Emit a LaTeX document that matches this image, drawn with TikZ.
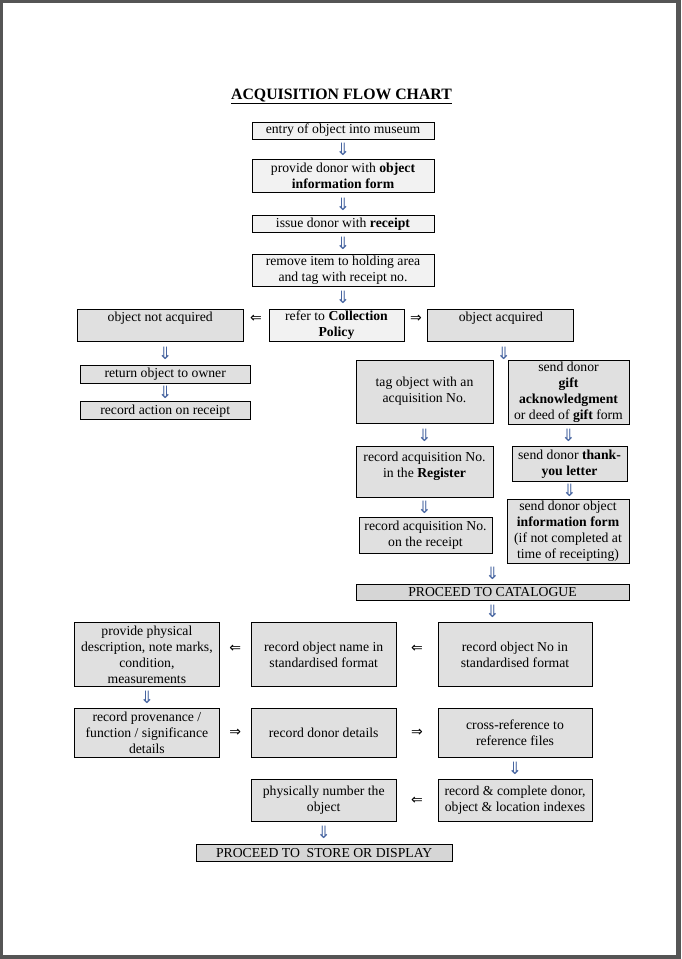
\documentclass[tikz,border=0pt]{standalone}
\usepackage{fontspec}
\setmainfont{Liberation Serif}
\newfontfamily\arrowfont{DejaVu Sans}
\usetikzlibrary{positioning,arrows.meta,calc}
\definecolor{framegray}{RGB}{85,85,85}
\definecolor{boxgray}{RGB}{224,224,224}
\definecolor{lightbox}{RGB}{242,242,242}
\definecolor{proceedgray}{RGB}{214,214,214}
\definecolor{arrowblue}{RGB}{70,100,160}
\tikzset{
  box/.style={draw, line width=.8pt, fill=boxgray, align=center, inner sep=1pt,
    font=\fontsize{13.7}{16}\selectfont},
  firstbox/.style={box, fill=lightbox},
  proceed/.style={box, fill=proceedgray},
  boxsize/.style 2 args={minimum width=#1, minimum height=#2},
  dnarrow/.style={text=arrowblue, inner sep=0pt, font=\arrowfont\fontsize{17}{17}\selectfont},
  sidearrow/.style={text=black, inner sep=0pt, font=\arrowfont\fontsize{14}{14}\selectfont},
}

\begin{document}
\begin{tikzpicture}[x=1pt,y=1pt]

% page frame
\fill[framegray] (0,0) rectangle (681,-959);
\fill[white] (3,-3) rectangle (676,-955);
\useasboundingbox (0,0) rectangle (681,-959);

\node[anchor=base,font=\fontsize{15.8}{18}\selectfont\bfseries] (title) at (341.5,-99)
  {\underline{ACQUISITION FLOW CHART}};

% intake
\node[firstbox,boxsize={182pt}{17pt}] (entry) at (343,-130.5) {entry of object into museum};
\node[firstbox,boxsize={182pt}{33pt},below=20pt of entry] (donorform)
  {provide donor with \textbf{object}\\\textbf{information form}};
\node[firstbox,boxsize={182pt}{17pt},below=22pt of donorform] (receipt)
  {issue donor with \textbf{receipt}};
\node[firstbox,boxsize={182pt}{32pt},below=21pt of receipt] (holding)
  {remove item to holding area\\and tag with receipt no.};
\node[firstbox,boxsize={135pt}{32pt},below=22pt of holding,xshift=-6.5pt] (policy)
  {refer to \textbf{Collection}\\\textbf{Policy}};
\node[box,boxsize={166pt}{32pt},left=25pt of policy] (notacq) {object not acquired\\\mbox{}};
\node[box,boxsize={146pt}{32pt},right=23pt of policy] (acq) {object acquired\\\mbox{}};

% not acquired
\node[box,boxsize={170pt}{18pt},below=23pt of notacq,xshift=5pt] (return) {return object to owner};
\node[box,boxsize={170pt}{18pt},below=18pt of return] (action) {record action on receipt};

% acquired
\node[box,boxsize={137pt}{63pt}] (tag) at (424.5,-391.5) {tag object with an\\acquisition No.};
\node[box,boxsize={137pt}{51pt},below=23pt of tag] (register)
  {record acquisition No.\\in the \textbf{Register}\\\mbox{}};
\node[box,boxsize={133pt}{36pt},below=19pt of register,xshift=1pt] (onreceipt)
  {record acquisition No.\\on the receipt};
\node[box,boxsize={121pt}{64pt}] (gift) at (568.5,-392)
  {send donor\\\textbf{gift}\\\textbf{acknowledgment}\\or deed of \textbf{gift} form};
\node[box,boxsize={115pt}{35pt},below=22pt of gift,xshift=1pt] (thank)
  {send donor \textbf{thank-}\\\textbf{you letter}};
\node[box,boxsize={122pt}{64pt},below=17pt of thank,xshift=-1.5pt] (infoform)
  {send donor object\\\textbf{information form}\\(if not completed at\\time of receipting)};
\node[proceed,boxsize={273pt}{16pt}] (catalogue) at (492.5,-592) {PROCEED TO CATALOGUE};

% catalogue
\node[box,boxsize={154pt}{64pt},below=22pt of catalogue,xshift=22.5pt] (objno)
  {record object No in\\standardised format};
\node[box,boxsize={145pt}{64pt},left=41pt of objno] (name)
  {record object name in\\standardised format};
\node[box,boxsize={145pt}{64pt},left=31pt of name] (phys)
  {provide physical\\description, note marks,\\condition,\\measurements};
\node[box,boxsize={145pt}{49pt},below=21pt of phys] (prov)
  {record provenance /\\function / significance\\details};
\node[box,boxsize={145pt}{49pt},right=31pt of prov] (donor) {record donor details};
\node[box,boxsize={154pt}{49pt},right=41pt of donor] (cross) {cross-reference to\\reference files};
\node[box,boxsize={154pt}{42pt},below=21pt of cross] (indexes)
  {record \& complete donor,\\object \& location indexes};
\node[box,boxsize={145pt}{42pt},left=41pt of indexes] (number) {physically number the\\object};
\node[proceed,boxsize={256pt}{17pt},below=22pt of number,xshift=.5pt] (store)
  {PROCEED TO\ \ STORE OR DISPLAY};

\coordinate (split) at ($(acq.south)+(3,-23)$);

% down arrows
\path (entry) -- node[dnarrow] {⇓} (donorform);
\path (donorform) -- node[dnarrow] {⇓} (receipt);
\path (receipt) -- node[dnarrow] {⇓} (holding);
\path (holding.south) -- node[dnarrow] {⇓} (holding.south |- policy.north);
\path (notacq.south -| return.north) -- node[dnarrow] {⇓} (return.north);
\path (return) -- node[dnarrow] {⇓} (action);
\path ([xshift=3pt]acq.south) -- node[dnarrow] {⇓} (split);
\path (tag) -- node[dnarrow] {⇓} (register);
\path (register.south) -- node[dnarrow] {⇓} (register.south |- onreceipt.north);
\path (gift.south) -- node[dnarrow] {⇓} (gift.south |- thank.north);
\path (thank.south) -- node[dnarrow] {⇓} (thank.south |- infoform.north);
\path (infoform.south -| catalogue.north) -- node[dnarrow] {⇓} (catalogue.north);
\path (catalogue.south) -- node[dnarrow] {⇓} (catalogue.south |- objno.north);
\path (phys) -- node[dnarrow] {⇓} (prov);
\path (cross) -- node[dnarrow] {⇓} (indexes);
\path (number.south) -- node[dnarrow] {⇓} (number.south |- store.north);

% side arrows
\path ([yshift=6pt]policy.west) -- node[sidearrow] {⇐} ([yshift=6pt]notacq.east);
\path ([yshift=6pt]policy.east) -- node[sidearrow] {⇒} ([yshift=6pt]acq.west);
\path ([yshift=6pt]objno.west) -- node[sidearrow] {⇐} ([yshift=6pt]name.east);
\path ([yshift=6pt]name.west) -- node[sidearrow] {⇐} ([yshift=6pt]phys.east);
\path (prov) -- node[sidearrow] {⇒} (donor);
\path (donor) -- node[sidearrow] {⇒} (cross);
\path (indexes) -- node[sidearrow] {⇐} (number);

\end{tikzpicture}
\end{document}
